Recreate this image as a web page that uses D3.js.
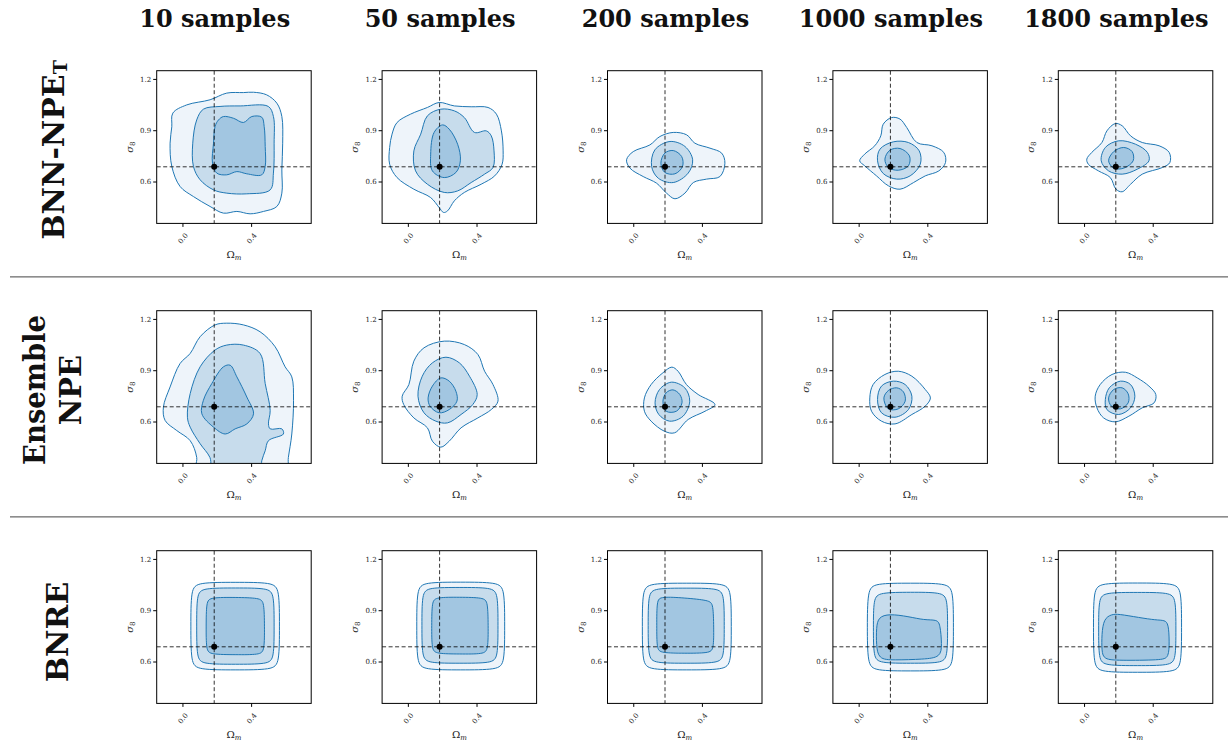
<!DOCTYPE html>
<html>
<head>
<meta charset="utf-8">
<script src="https://cdn.jsdelivr.net/npm/d3@7"></script>
<style>
    body { margin: 0; background: #fff; }
    text { font-family: 'DejaVu Serif', serif; }
</style>
</head>
<body>
<svg id="chart" width="1231" height="754"></svg>
<script>
// column / row labels and ticks
const sampleSizes = ['10 samples', '50 samples', '200 samples', '1000 samples', '1800 samples'];
const omegaTicks = [0.0, 0.4];
const sigmaTicks = [0.6, 0.9, 1.2];
const truth = [0.185, 0.686];

// contour outlines: [outer, middle, inner], points are [Omega_m, sigma_8]
const bnn10 = [
    [[-0.056,1.0],[0.025,1.048],[0.161,1.078],[0.258,1.117],[0.355,1.12],[0.414,1.122],[0.49,1.107],[0.55,1.058],[0.579,0.98],[0.584,0.824],[0.579,0.668],[0.579,0.532],[0.55,0.454],[0.472,0.425],[0.394,0.411],[0.317,0.425],[0.239,0.415],[0.161,0.454],[0.064,0.512],[-0.014,0.571],[-0.062,0.688],[-0.072,0.824],[-0.062,0.92]],
    [[0.083,0.96],[0.122,1.023],[0.219,1.039],[0.336,1.042],[0.5,1.039],[0.53,0.98],[0.534,0.824],[0.53,0.649],[0.511,0.551],[0.375,0.528],[0.258,0.532],[0.181,0.551],[0.103,0.61],[0.064,0.688],[0.06,0.824]],
    [[0.21,0.96],[0.239,0.98],[0.297,0.97],[0.355,0.945],[0.404,0.98],[0.462,0.976],[0.476,0.922],[0.482,0.805],[0.482,0.688],[0.462,0.639],[0.375,0.645],[0.317,0.658],[0.258,0.639],[0.2,0.649],[0.175,0.707],[0.181,0.824],[0.19,0.922]]
];
const bnn50 = [
    [[-0.092,0.877],[-0.063,0.945],[0.016,0.994],[0.114,1.033],[0.182,1.062],[0.271,1.042],[0.369,1.037],[0.467,1.033],[0.516,0.994],[0.545,0.896],[0.555,0.779],[0.549,0.701],[0.506,0.633],[0.427,0.584],[0.329,0.536],[0.271,0.487],[0.231,0.428],[0.208,0.419],[0.182,0.448],[0.133,0.506],[0.035,0.555],[-0.063,0.623],[-0.106,0.701],[-0.106,0.799]],
    [[0.035,0.779],[0.075,0.877],[0.114,0.984],[0.192,1.023],[0.271,1.013],[0.329,0.974],[0.388,0.887],[0.457,0.896],[0.486,0.867],[0.502,0.779],[0.496,0.682],[0.447,0.643],[0.369,0.594],[0.29,0.545],[0.212,0.536],[0.114,0.584],[0.045,0.662]],
    [[0.133,0.76],[0.153,0.887],[0.202,0.931],[0.241,0.906],[0.29,0.818],[0.306,0.721],[0.28,0.653],[0.212,0.623],[0.143,0.662]]
];
const bnn200 = [
    [[-0.039,0.727],[0.0,0.775],[0.097,0.814],[0.155,0.863],[0.233,0.887],[0.311,0.873],[0.359,0.824],[0.447,0.795],[0.515,0.766],[0.534,0.707],[0.505,0.629],[0.427,0.614],[0.35,0.594],[0.301,0.532],[0.243,0.499],[0.194,0.532],[0.136,0.59],[0.058,0.629],[-0.019,0.678]],
    [[0.107,0.688],[0.126,0.785],[0.214,0.834],[0.301,0.805],[0.346,0.727],[0.32,0.649],[0.233,0.594],[0.146,0.619]],
    [[0.161,0.707],[0.184,0.766],[0.233,0.781],[0.282,0.746],[0.287,0.688],[0.243,0.645],[0.184,0.653]]
];
const bnn1000 = [
    [[0.006,0.721],[0.035,0.76],[0.094,0.809],[0.129,0.867],[0.143,0.935],[0.192,0.974],[0.241,0.965],[0.28,0.916],[0.339,0.828],[0.427,0.809],[0.496,0.77],[0.506,0.711],[0.467,0.662],[0.388,0.633],[0.32,0.594],[0.241,0.555],[0.173,0.575],[0.104,0.633],[0.035,0.692]],
    [[0.11,0.721],[0.124,0.789],[0.202,0.832],[0.29,0.828],[0.353,0.779],[0.359,0.701],[0.3,0.633],[0.222,0.614],[0.143,0.647]],
    [[0.153,0.731],[0.182,0.783],[0.241,0.793],[0.296,0.75],[0.29,0.692],[0.231,0.666],[0.173,0.682]]
];
const bnn1800 = [
    [[0.016,0.731],[0.045,0.77],[0.104,0.828],[0.133,0.896],[0.182,0.939],[0.222,0.926],[0.271,0.867],[0.339,0.828],[0.437,0.809],[0.496,0.77],[0.5,0.711],[0.457,0.682],[0.339,0.643],[0.271,0.584],[0.222,0.54],[0.186,0.555],[0.153,0.623],[0.084,0.662],[0.025,0.701]],
    [[0.1,0.721],[0.124,0.799],[0.202,0.838],[0.3,0.818],[0.369,0.77],[0.378,0.721],[0.31,0.672],[0.222,0.643],[0.143,0.662]],
    [[0.143,0.721],[0.173,0.775],[0.231,0.799],[0.28,0.775],[0.286,0.721],[0.231,0.678],[0.173,0.678]]
];
const ens10 = [
    [[-0.111,0.684],[-0.072,0.802],[-0.014,0.939],[0.045,0.998],[0.103,1.096],[0.19,1.165],[0.258,1.175],[0.355,1.165],[0.452,1.125],[0.54,1.037],[0.598,0.92],[0.637,0.861],[0.647,0.724],[0.637,0.527],[0.617,0.39],[0.605,0.3],[0.35,0.28],[0.08,0.3],[0.083,0.39],[0.045,0.488],[-0.033,0.547],[-0.101,0.606]],
    [[0.029,0.625],[0.045,0.763],[0.103,0.92],[0.19,1.018],[0.258,1.047],[0.355,1.047],[0.452,0.998],[0.482,0.822],[0.511,0.665],[0.501,0.586],[0.511,0.557],[0.579,0.557],[0.588,0.527],[0.501,0.488],[0.482,0.429],[0.462,0.37],[0.455,0.3],[0.18,0.3],[0.16,0.39],[0.103,0.47],[0.045,0.567]],
    [[0.113,0.645],[0.122,0.724],[0.171,0.822],[0.239,0.92],[0.278,0.929],[0.317,0.861],[0.375,0.743],[0.414,0.645],[0.375,0.586],[0.307,0.557],[0.249,0.527],[0.181,0.567]]
];
const ens50 = [
    [[-0.033,0.748],[0.006,0.816],[0.035,0.953],[0.094,1.031],[0.212,1.07],[0.329,1.05],[0.408,0.992],[0.447,0.894],[0.496,0.816],[0.525,0.719],[0.486,0.67],[0.408,0.621],[0.31,0.563],[0.241,0.485],[0.192,0.45],[0.143,0.485],[0.114,0.563],[0.035,0.621],[-0.024,0.699]],
    [[0.059,0.748],[0.084,0.865],[0.143,0.943],[0.222,0.976],[0.3,0.943],[0.359,0.865],[0.404,0.758],[0.378,0.699],[0.31,0.641],[0.231,0.592],[0.163,0.602],[0.094,0.651]],
    [[0.118,0.738],[0.143,0.807],[0.192,0.855],[0.241,0.836],[0.28,0.777],[0.286,0.719],[0.241,0.67],[0.182,0.651],[0.129,0.69]]
];
const ens200 = [
    [[0.065,0.738],[0.104,0.816],[0.173,0.885],[0.225,0.918],[0.261,0.894],[0.31,0.816],[0.378,0.758],[0.476,0.699],[0.418,0.66],[0.32,0.612],[0.241,0.534],[0.182,0.543],[0.104,0.602],[0.065,0.66]],
    [[0.127,0.709],[0.153,0.787],[0.222,0.83],[0.3,0.797],[0.329,0.719],[0.29,0.631],[0.212,0.602],[0.149,0.641]],
    [[0.173,0.719],[0.192,0.768],[0.231,0.785],[0.271,0.758],[0.284,0.709],[0.251,0.66],[0.192,0.66]]
];
const ens1000 = [
    [[0.065,0.738],[0.084,0.816],[0.153,0.875],[0.231,0.894],[0.31,0.865],[0.388,0.787],[0.418,0.738],[0.388,0.69],[0.31,0.641],[0.212,0.586],[0.133,0.602],[0.075,0.66]],
    [[0.11,0.729],[0.133,0.807],[0.202,0.836],[0.271,0.816],[0.31,0.748],[0.29,0.67],[0.212,0.625],[0.133,0.651]],
    [[0.147,0.738],[0.173,0.781],[0.222,0.797],[0.261,0.773],[0.271,0.719],[0.231,0.674],[0.173,0.674]]
];
const ens1800 = [
    [[0.065,0.748],[0.094,0.816],[0.163,0.875],[0.241,0.888],[0.31,0.855],[0.378,0.807],[0.418,0.758],[0.408,0.709],[0.339,0.68],[0.261,0.631],[0.182,0.598],[0.114,0.621],[0.075,0.68]],
    [[0.124,0.729],[0.147,0.797],[0.212,0.836],[0.271,0.816],[0.296,0.748],[0.271,0.68],[0.202,0.641],[0.133,0.67]],
    [[0.143,0.738],[0.173,0.787],[0.222,0.797],[0.257,0.762],[0.257,0.709],[0.212,0.674],[0.159,0.69]]
];
const bnre10 = [
    [[0.089,1.063],[0.307,1.063],[0.525,1.063],[0.565,1.023],[0.565,0.807],[0.565,0.591],[0.525,0.551],[0.307,0.551],[0.089,0.551],[0.049,0.591],[0.049,0.807],[0.049,1.023]],
    [[0.118,1.03],[0.308,1.03],[0.499,1.03],[0.534,0.995],[0.534,0.807],[0.534,0.619],[0.499,0.584],[0.308,0.584],[0.118,0.584],[0.083,0.619],[0.083,0.807],[0.083,0.995]],
    [[0.163,0.975],[0.307,0.975],[0.451,0.972],[0.476,0.947],[0.478,0.807],[0.478,0.664],[0.451,0.639],[0.307,0.64],[0.163,0.641],[0.138,0.666],[0.138,0.807],[0.139,0.95]]
];
const bnre50 = [
    [[0.092,1.064],[0.308,1.064],[0.524,1.064],[0.564,1.024],[0.564,0.807],[0.564,0.591],[0.524,0.551],[0.308,0.551],[0.092,0.551],[0.052,0.591],[0.052,0.807],[0.052,1.024]],
    [[0.117,1.033],[0.303,1.033],[0.49,1.033],[0.525,0.998],[0.525,0.811],[0.525,0.625],[0.49,0.59],[0.303,0.59],[0.117,0.59],[0.082,0.625],[0.082,0.811],[0.082,0.998]],
    [[0.164,0.976],[0.302,0.976],[0.441,0.974],[0.466,0.949],[0.468,0.81],[0.468,0.668],[0.441,0.643],[0.302,0.644],[0.164,0.645],[0.139,0.67],[0.139,0.81],[0.14,0.951]]
];
const bnre200 = [
    [[0.093,1.058],[0.312,1.058],[0.531,1.058],[0.571,1.018],[0.571,0.805],[0.571,0.591],[0.531,0.551],[0.312,0.551],[0.093,0.551],[0.053,0.591],[0.053,0.805],[0.053,1.018]],
    [[0.122,1.029],[0.308,1.029],[0.495,1.029],[0.53,0.994],[0.53,0.81],[0.53,0.625],[0.495,0.59],[0.308,0.59],[0.122,0.59],[0.087,0.625],[0.087,0.81],[0.087,0.994]],
    [[0.16,0.98],[0.3,0.972],[0.443,0.958],[0.466,0.935],[0.469,0.8],[0.469,0.672],[0.443,0.649],[0.3,0.648],[0.16,0.65],[0.137,0.673],[0.137,0.81],[0.137,0.957]]
];
const bnre1000 = [
    [[0.092,1.058],[0.302,1.058],[0.512,1.058],[0.552,1.018],[0.552,0.8],[0.552,0.585],[0.512,0.545],[0.302,0.545],[0.092,0.545],[0.052,0.585],[0.05,0.8],[0.052,1.018]],
    [[0.121,1.004],[0.302,1.005],[0.483,1.005],[0.518,0.97],[0.518,0.797],[0.518,0.625],[0.483,0.59],[0.302,0.59],[0.121,0.59],[0.086,0.625],[0.086,0.797],[0.086,0.969]],
    [[0.115,0.86],[0.177,0.879],[0.291,0.863],[0.382,0.842],[0.455,0.845],[0.475,0.82],[0.485,0.697],[0.478,0.625],[0.382,0.613],[0.2,0.608],[0.115,0.613],[0.103,0.697],[0.103,0.8]]
];
const bnre1800 = [
    [[0.095,1.059],[0.311,1.059],[0.528,1.059],[0.568,1.019],[0.568,0.798],[0.568,0.577],[0.528,0.537],[0.311,0.537],[0.095,0.537],[0.055,0.577],[0.055,0.798],[0.055,1.019]],
    [[0.12,1.004],[0.31,1.004],[0.5,1.004],[0.535,0.969],[0.535,0.79],[0.535,0.611],[0.5,0.576],[0.31,0.576],[0.12,0.576],[0.085,0.611],[0.085,0.79],[0.085,0.969]],
    [[0.115,0.85],[0.16,0.876],[0.2,0.878],[0.32,0.857],[0.42,0.842],[0.47,0.842],[0.492,0.82],[0.497,0.718],[0.494,0.622],[0.45,0.608],[0.2,0.606],[0.115,0.612],[0.103,0.66],[0.103,0.76]]
];

const grid = [
    [bnn10, bnn50, bnn200, bnn1000, bnn1800],
    [ens10, ens50, ens200, ens1000, ens1800],
    [bnre10, bnre50, bnre200, bnre1000, bnre1800]
];

const svg = d3.select('#chart');

let colLeft = 156.7, colStep = 225.4;
let rowTop = 70.7, rowStep = 240;
let pw = 154.5, ph = 152.7;

let x = d3.scaleLinear().domain([-0.15, 0.75]).range([0, pw]);
let y = d3.scaleLinear().domain([0.355, 1.248]).range([ph, 0]);

let fills = ['#eef4fa', '#c7dcec', '#a2c6e1'];
let lineColor = '#1f77b4';

// smooth closed curve through the read points; the boxy BNRE outlines use a B-spline
let smoothLine = d3.line()
    .x(d => x(d[0]))
    .y(d => y(d[1]))
    .curve(d3.curveCatmullRomClosed.alpha(0.5));
let boxLine = d3.line()
    .x(d => x(d[0]))
    .y(d => y(d[1]))
    .curve(d3.curveBasisClosed);

// column titles
svg.selectAll('.coltitle')
    .data(sampleSizes)
    .enter()
    .append('text')
    .attr('class', 'coltitle')
    .attr('x', (d, i) => colLeft + i * colStep + 58)
    .attr('y', 27)
    .attr('text-anchor', 'middle')
    .attr('font-size', 24)
    .attr('font-weight', 'bold')
    .attr('fill', '#111')
    .text(d => d);

// row labels
let bnnLabel = svg.append('text')
    .attr('transform', 'translate(53,150) rotate(-90)')
    .attr('text-anchor', 'middle')
    .attr('dominant-baseline', 'central')
    .attr('font-size', 30)
    .attr('font-weight', 'bold')
    .attr('fill', '#111');
bnnLabel.append('tspan').text('BNN-NPE');
bnnLabel.append('tspan').attr('font-size', 19).attr('dy', 7).text('T');

svg.append('text')
    .attr('transform', 'translate(35,390) rotate(-90)')
    .attr('text-anchor', 'middle')
    .attr('dominant-baseline', 'central')
    .attr('font-size', 29)
    .attr('font-weight', 'bold')
    .attr('fill', '#111')
    .attr('textLength', 150)
    .attr('lengthAdjust', 'spacingAndGlyphs')
    .text('Ensemble');

svg.append('text')
    .attr('transform', 'translate(71,390) rotate(-90)')
    .attr('text-anchor', 'middle')
    .attr('dominant-baseline', 'central')
    .attr('font-size', 29)
    .attr('font-weight', 'bold')
    .attr('fill', '#111')
    .text('NPE');

svg.append('text')
    .attr('transform', 'translate(57,632) rotate(-90)')
    .attr('text-anchor', 'middle')
    .attr('dominant-baseline', 'central')
    .attr('font-size', 30)
    .attr('font-weight', 'bold')
    .attr('fill', '#111')
    .text('BNRE');

// separators between method rows
[0, 1].forEach(r => {
    let yy = rowTop + r * rowStep + ph + 53.5;
    svg.append('line')
        .attr('x1', 10).attr('x2', 1228)
        .attr('y1', yy).attr('y2', yy)
        .attr('stroke', '#444')
        .attr('stroke-width', 1);
});

grid.forEach((row, r) => {
    row.forEach((levels, c) => {
        let g = svg.append('g')
            .attr('transform', `translate(${colLeft + c * colStep},${rowTop + r * rowStep})`);

        let clipId = `clip-${r}-${c}`;
        g.append('clipPath')
            .attr('id', clipId)
            .append('rect')
            .attr('width', pw)
            .attr('height', ph);

        let plot = g.append('g').attr('clip-path', `url(#${clipId})`);

        plot.selectAll('path')
            .data(levels)
            .enter()
            .append('path')
            .attr('d', r === 2 ? boxLine : smoothLine)
            .attr('fill', (d, i) => fills[i])
            .attr('stroke', lineColor)
            .attr('stroke-width', 1)
            .attr('stroke-linejoin', 'round');

        // truth markers
        plot.append('line')
            .attr('x1', x(truth[0])).attr('x2', x(truth[0]))
            .attr('y1', 0).attr('y2', ph)
            .attr('stroke', '#000')
            .attr('stroke-opacity', 0.8)
            .attr('stroke-dasharray', '4,2.5')
            .attr('stroke-width', 1);
        plot.append('line')
            .attr('x1', 0).attr('x2', pw)
            .attr('y1', y(truth[1])).attr('y2', y(truth[1]))
            .attr('stroke', '#000')
            .attr('stroke-opacity', 0.8)
            .attr('stroke-dasharray', '4,2.5')
            .attr('stroke-width', 1);
        plot.append('circle')
            .attr('cx', x(truth[0]))
            .attr('cy', y(truth[1]))
            .attr('r', 3)
            .attr('fill', '#000');

        g.append('rect')
            .attr('width', pw)
            .attr('height', ph)
            .attr('fill', 'none')
            .attr('stroke', '#000')
            .attr('stroke-width', 1);

        // axes
        let yAxis = g.append('g')
            .call(d3.axisLeft(y).tickValues(sigmaTicks).tickFormat(d3.format('.1f')).tickSize(3.5).tickPadding(2));
        yAxis.select('.domain').remove();
        yAxis.selectAll('text')
            .attr('font-family', 'DejaVu Serif')
            .attr('font-size', 7)
            .attr('fill', '#222');

        let xAxis = g.append('g')
            .attr('transform', `translate(0,${ph})`)
            .call(d3.axisBottom(x).tickValues(omegaTicks).tickFormat(d3.format('.1f')).tickSize(3.5));
        xAxis.select('.domain').remove();
        xAxis.selectAll('text')
            .attr('font-family', 'DejaVu Serif')
            .attr('font-size', 7)
            .attr('fill', '#222')
            .attr('y', 0)
            .attr('dy', '0.35em')
            .attr('text-anchor', 'middle')
            .attr('transform', 'translate(0,15) rotate(-50)');

        // axis labels
        let xl = g.append('text')
            .attr('x', pw / 2)
            .attr('y', ph + 35)
            .attr('text-anchor', 'middle')
            .attr('font-size', 10)
            .attr('fill', '#222');
        xl.append('tspan').text('Ω');
        xl.append('tspan').attr('font-style', 'italic').attr('font-size', 7).attr('dy', 2).text('m');

        let yl = g.append('text')
            .attr('transform', `translate(-24,${ph / 2}) rotate(-90)`)
            .attr('text-anchor', 'middle')
            .attr('font-size', 10)
            .attr('fill', '#222');
        yl.append('tspan').attr('font-style', 'italic').text('σ');
        yl.append('tspan').attr('font-size', 7).attr('dy', 2).text('8');
    });
});
</script>
</body>
</html>
